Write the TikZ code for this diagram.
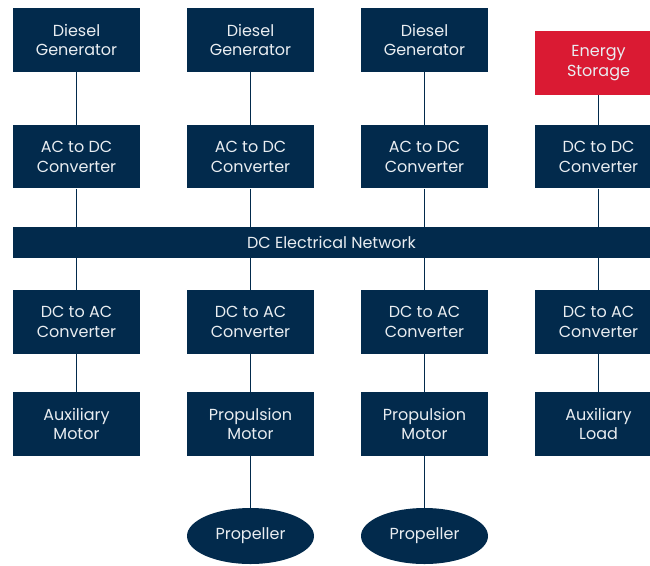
\documentclass[tikz,border=0pt]{standalone}
\usepackage{fontspec}
\setmainfont{Poppins}
\usetikzlibrary{shapes.geometric,backgrounds}
\definecolor{navy}{HTML}{022A4C}
\definecolor{ered}{HTML}{DA1A33}
\definecolor{txt}{HTML}{E9EDF1}
\tikzset{
  lbl/.style={text=txt, inner sep=0pt, font=\fontsize{16}{19.5}\selectfont},
  box/.style={lbl, rectangle, fill=navy, minimum width=127pt, minimum height=63.5pt, align=center},
  redbox/.style={box, fill=ered},
  bus/.style={lbl, rectangle, fill=navy, minimum width=637pt, minimum height=30.5pt},
  prop/.style={lbl, ellipse, fill=navy, minimum width=127pt, minimum height=56pt},
  wire/.style={draw=navy, line width=1pt}
}
\begin{document}
\begin{tikzpicture}[x=1pt,y=-1pt]
\useasboundingbox (0,0) rectangle (650,565);
% row 0
\node[box] (dg1) at (76.5,40) {Diesel\\Generator};
\node[box] (dg2) at (250.5,40) {Diesel\\Generator};
\node[box] (dg3) at (424.5,40) {Diesel\\Generator};
\node[redbox] (es) at (598.5,63) {Energy\\Storage};
% row 1
\node[box] (ac1) at (76.5,156.7) {AC to DC\\Converter};
\node[box] (ac2) at (250.5,156.7) {AC to DC\\Converter};
\node[box] (ac3) at (424.5,156.7) {AC to DC\\Converter};
\node[box] (dd4) at (598.5,156.7) {DC to DC\\Converter};
% bus
\node[bus] (net) at (331.5,242.5) {DC Electrical Network};
% row 2
\node[box] (ca1) at (76.5,322) {DC to AC\\Converter};
\node[box] (ca2) at (250.5,322) {DC to AC\\Converter};
\node[box] (ca3) at (424.5,322) {DC to AC\\Converter};
\node[box] (ca4) at (598.5,322) {DC to AC\\Converter};
% row 3
\node[box] (m1) at (76.5,424) {Auxiliary\\Motor};
\node[box] (m2) at (250.5,424) {Propulsion\\Motor};
\node[box] (m3) at (424.5,424) {Propulsion\\Motor};
\node[box] (m4) at (598.5,424) {Auxiliary\\Load};
% propellers
\node[prop] (p2) at (250.5,536) {Propeller};
\node[prop] (p3) at (424.5,536) {Propeller};
\begin{scope}[on background layer]
\draw[wire] (dg1) -- (ac1);
\draw[wire] (dg2) -- (ac2);
\draw[wire] (dg3) -- (ac3);
\draw[wire] (es) -- (dd4);
\draw[wire] (ac1) -- (ca1);
\draw[wire] (ac2) -- (ca2);
\draw[wire] (ac3) -- (ca3);
\draw[wire] (dd4) -- (ca4);
\draw[wire] (ca1) -- (m1);
\draw[wire] (ca2) -- (m2);
\draw[wire] (ca3) -- (m3);
\draw[wire] (ca4) -- (m4);
\draw[wire] (m2) -- (p2);
\draw[wire] (m3) -- (p3);
\end{scope}
\end{tikzpicture}
\end{document}
